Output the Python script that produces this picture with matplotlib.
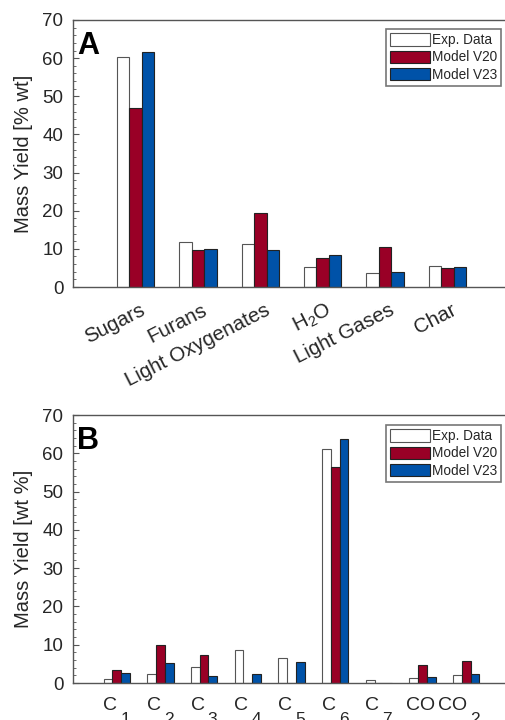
import matplotlib
matplotlib.use("Agg")
import matplotlib.pyplot as plt
import numpy as np
from matplotlib.transforms import ScaledTranslation
from matplotlib.ticker import MultipleLocator

plt.rcParams['font.family'] = ['Liberation Sans', 'DejaVu Sans']
plt.rcParams['mathtext.fontset'] = 'custom'
plt.rcParams['mathtext.rm'] = 'Liberation Sans'

# Panel A data
cats_a = ["Sugars", "Furans", "Light Oxygenates", r"H$_2$O", "Light Gases", "Char"]
exp_a = [60.3, 11.8, 11.4, 5.2, 3.6, 5.6]
v20_a = [46.8, 9.6, 19.5, 7.5, 10.4, 4.9]
v23_a = [61.6, 10.0, 9.7, 8.4, 4.0, 5.3]

# Panel B data (label base, subscript)
cats_b_base = ["C", "C", "C", "C", "C", "C", "C", "CO", "CO"]
cats_b_sub = ["1", "2", "3", "4", "5", "6", "7", "", "2"]
exp_b = [1.1, 2.35, 4.2, 8.5, 6.5, 61.1, 0.8, 1.3, 2.1]
v20_b = [3.5, 10.0, 7.2, 0.0, 0.0, 56.3, 0.1, 4.8, 5.7]
v23_b = [2.6, 5.2, 1.8, 2.3, 5.5, 63.8, 0.1, 1.6, 2.3]

series_names = ["Exp. Data", "Model V20", "Model V23"]
colors = ["white", "#990026", "#0052A8"]

fig = plt.figure(figsize=(5.05, 7.2), dpi=100)
W, H = 505.0, 720.0

def make_axes(top_px, bottom_px):
    left = 73 / W
    right = 510 / W
    return fig.add_axes([left, 1 - bottom_px / H, right - left, (bottom_px - top_px) / H])

axA = make_axes(20, 287)
axB = make_axes(415, 683)

tick_color = '#262626'
spine_color = '#555555'

def px(dx, dy):
    return ScaledTranslation(dx / 100, dy / 100, fig.dpi_scale_trans)

def style(ax, ncat, ylabel, letter):
    ax.set_xlim(0, ncat + 1)
    ax.set_ylim(0, 70)
    ax.yaxis.set_major_locator(MultipleLocator(10))
    ax.yaxis.set_minor_locator(MultipleLocator(2))
    ax.tick_params(axis='y', which='both', direction='in', labelsize=13.5,
                   colors=spine_color, labelcolor=tick_color, pad=7)
    ax.tick_params(axis='y', which='major', length=4)
    ax.tick_params(axis='y', which='minor', length=2)
    ax.tick_params(axis='x', which='both', length=0)
    for s in ax.spines.values():
        s.set_color(spine_color)
        s.set_linewidth(1.0)
    ax.set_ylabel(ylabel, fontsize=14.5, color=tick_color)
    ax.yaxis.set_label_coords(-0.092, 0.5)
    ax.text(0.01, 0.958, letter, transform=ax.transAxes, fontsize=22,
            fontweight='bold', ha='left', va='top', color='black')

def bars(ax, data):
    x = np.arange(1, len(data[0]) + 1)
    for i, (vals, c) in enumerate(zip(data, colors)):
        ec = '#555555' if i == 0 else '#222222'
        ax.bar(x + (i - 1) * 0.2, vals, width=0.2, color=c, edgecolor=ec,
               linewidth=0.8, label=series_names[i], zorder=2)
    return x

def legend(ax, top_px):
    leg = ax.legend(loc='upper right', bbox_to_anchor=(501 / W, 1 - top_px / H),
                    bbox_transform=fig.transFigure, borderaxespad=0, fontsize=9.8,
                    frameon=True, fancybox=False, handlelength=2.9, handleheight=1.0,
                    labelspacing=0.25, handletextpad=0.15, borderpad=0.3)
    leg.get_frame().set_edgecolor('#555555')
    leg.get_frame().set_linewidth(1.2)
    for t in leg.get_texts():
        t.set_color(tick_color)

# Panel A
xA = bars(axA, [exp_a, v20_a, v23_a])
style(axA, len(cats_a), "Mass Yield [% wt]", "A")
axA.set_xticks(xA)
axA.set_xticklabels([""] * len(cats_a))
offA = axA.get_xaxis_transform() + px(8, -22)
for xi, lab in zip(xA, cats_a):
    axA.text(xi, 0, lab, transform=offA, rotation=27, rotation_mode='anchor',
             ha='right', va='center', fontsize=14.8, color=tick_color)
legend(axA, 29)

# Panel B
xB = bars(axB, [exp_b, v20_b, v23_b])
style(axB, len(cats_b_base), "Mass Yield [wt %]", "B")
axB.set_xticks(xB)
axB.set_xticklabels([""] * len(cats_b_base))
for xi, base, sub in zip(xB, cats_b_base, cats_b_sub):
    if sub:
        tb = axB.get_xaxis_transform() + px(0.5, -13.5)
        axB.text(xi, 0, base, transform=tb, ha='right', va='top',
                 fontsize=14, color=tick_color)
        ts = axB.get_xaxis_transform() + px(3.5, -29)
        axB.text(xi, 0, sub, transform=ts, ha='left', va='top',
                 fontsize=12.5, color=tick_color)
    else:
        tb = axB.get_xaxis_transform() + px(-2.5, -13.5)
        axB.text(xi, 0, base, transform=tb, ha='center', va='top',
                 fontsize=14, color=tick_color)
legend(axB, 425)

fig.savefig("out.png", dpi=100)
